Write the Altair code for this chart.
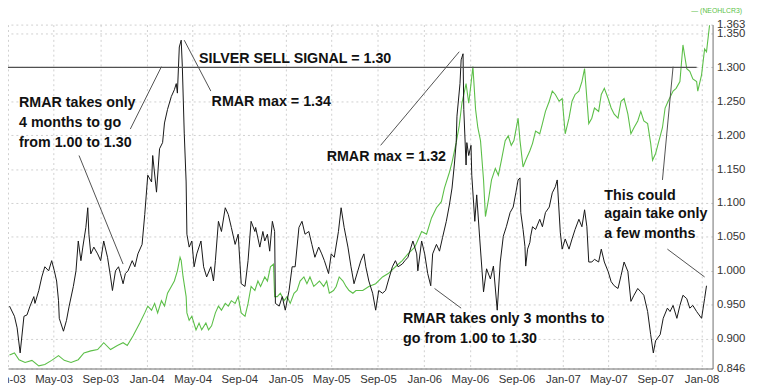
import altair as alt
import pandas as pd

# ---------------- data ----------------
# day offsets from 2003-01-01 and values
black_days = [4, 17, 24, 32, 42, 50, 58, 68, 71, 81,
              89, 97, 107, 115, 122, 128, 133, 135, 146, 154,
              161, 172, 179, 185, 192, 197, 205, 210, 213, 218,
              226, 236, 244, 252, 262, 270, 275, 283, 291, 296,
              303, 309, 316, 327, 334, 342, 353, 360, 368, 378,
              381, 391, 399, 407, 412, 420, 430, 438, 443, 446,
              451, 456, 459, 464, 469, 471, 477, 484, 490, 497,
              508, 515, 523, 534, 541, 546, 554, 562, 572, 580,
              588, 598, 606, 614, 624, 632, 640, 650, 652, 663,
              671, 676, 683, 689, 696, 702, 704, 714, 722, 730,
              740, 748, 756, 766, 774, 782, 792, 800, 808, 818,
              826, 833, 844, 851, 859, 870, 877, 885, 895, 903,
              911, 921, 929, 937, 942, 950, 960, 968, 976, 986,
              994, 1001, 1012, 1020, 1027, 1038, 1045, 1053, 1066, 1076,
              1079, 1089, 1097, 1105, 1113, 1118, 1128, 1136, 1144, 1154,
              1162, 1169, 1175, 1180, 1182, 1190, 1193, 1198, 1200, 1206,
              1208, 1213, 1219, 1221, 1229, 1234, 1242, 1252, 1260, 1270,
              1278, 1288, 1296, 1304, 1312, 1322, 1330, 1337, 1343, 1348,
              1350, 1356, 1361, 1363, 1368, 1374, 1376, 1381, 1389, 1400,
              1407, 1415, 1425, 1433, 1441, 1446, 1454, 1459, 1467, 1477,
              1485, 1493, 1503, 1511, 1518, 1524, 1529, 1537, 1544, 1555,
              1562, 1570, 1580, 1588, 1596, 1606, 1614, 1622, 1632, 1640,
              1648, 1658, 1666, 1674, 1684, 1692, 1699, 1705, 1717, 1725,
              1736, 1743, 1751, 1761, 1769, 1777, 1787, 1795, 1803, 1813,
              1826, 1834, 1839]
black_vals = [0.948, 0.933, 0.916, 0.879, 0.933, 0.935, 0.948, 0.962, 0.952, 0.971,
              0.991, 1.006, 1.000, 1.015, 1.000, 0.985, 0.956, 0.930, 0.911, 0.927,
              0.948, 0.977, 1.000, 1.044, 1.015, 1.035, 1.064, 1.093, 1.054, 1.025,
              1.035, 1.025, 1.015, 1.044, 1.020, 0.991, 0.971, 1.000, 1.006, 0.996,
              0.981, 0.996, 1.000, 1.015, 1.006, 1.025, 1.039, 1.083, 1.141, 1.131,
              1.170, 1.116, 1.180, 1.189, 1.218, 1.238, 1.257, 1.267, 1.276, 1.262,
              1.330, 1.340, 1.301, 1.203, 1.131, 1.054, 1.035, 1.044, 1.006, 1.025,
              1.044, 1.006, 0.991, 1.006, 0.985, 1.015, 1.073, 1.058, 1.093, 1.083,
              1.064, 1.039, 1.054, 0.981, 0.977, 1.015, 1.073, 1.058, 1.064, 1.035,
              1.058, 1.044, 1.054, 1.029, 1.073, 1.058, 0.952, 0.948, 0.962, 0.942,
              0.971, 1.006, 1.006, 1.064, 1.073, 1.054, 1.058, 1.039, 1.020, 1.035,
              1.025, 1.015, 0.996, 1.025, 1.020, 1.058, 1.093, 1.064, 1.035, 1.006,
              0.981, 1.000, 1.015, 1.025, 1.006, 0.985, 0.967, 0.942, 0.971, 0.967,
              0.971, 0.985, 1.006, 1.015, 1.006, 1.010, 1.015, 1.020, 1.044, 1.025,
              1.000, 1.044, 1.025, 0.996, 0.978, 1.025, 1.039, 1.029, 1.049, 1.073,
              1.097, 1.122, 1.156, 1.189, 1.228, 1.276, 1.311, 1.320, 1.238, 1.156,
              1.189, 1.170, 1.185, 1.141, 1.073, 1.112, 1.047, 0.969, 1.003, 0.988,
              1.007, 0.942, 1.013, 1.051, 1.065, 1.086, 1.094, 1.115, 1.134, 1.137,
              1.086, 1.061, 1.036, 1.007, 1.032, 1.042, 1.051, 1.065, 1.061, 1.076,
              1.065, 1.086, 1.094, 1.115, 1.124, 1.134, 1.057, 1.032, 1.047, 1.032,
              1.047, 1.061, 1.076, 1.065, 1.090, 1.065, 1.013, 1.013, 1.017, 1.013,
              1.032, 1.013, 0.999, 0.984, 0.978, 0.974, 0.993, 1.013, 0.999, 0.955,
              0.964, 0.974, 0.969, 0.964, 0.940, 0.906, 0.879, 0.897, 0.906, 0.930,
              0.945, 0.940, 0.949, 0.930, 0.949, 0.964, 0.959, 0.945, 0.949, 0.940,
              0.930, 0.959, 0.978]

green_days = [4, 17, 29, 45, 63, 81, 97, 115, 133, 148,
              166, 185, 200, 218, 236, 252, 270, 288, 303, 314,
              329, 347, 360, 368, 378, 386, 394, 404, 412, 420,
              430, 438, 446, 453, 456, 461, 469, 471, 477, 484,
              495, 503, 510, 521, 528, 536, 546, 554, 562, 572,
              580, 588, 598, 606, 614, 624, 632, 640, 650, 658,
              665, 676, 683, 691, 699, 702, 709, 717, 727, 735,
              743, 753, 761, 769, 779, 787, 795, 805, 813, 820,
              831, 839, 846, 857, 864, 872, 882, 890, 898, 908,
              916, 934, 950, 968, 986, 1001, 1020, 1038, 1053, 1071,
              1089, 1102, 1115, 1128, 1141, 1149, 1162, 1169, 1180, 1188,
              1195, 1206, 1213, 1219, 1224, 1231, 1237, 1244, 1252, 1257,
              1265, 1273, 1283, 1291, 1299, 1309, 1317, 1325, 1332, 1343,
              1348, 1356, 1363, 1374, 1381, 1389, 1400, 1407, 1415, 1425,
              1433, 1441, 1451, 1459, 1467, 1477, 1485, 1493, 1503, 1511,
              1518, 1529, 1537, 1544, 1555, 1562, 1570, 1580, 1588, 1596,
              1606, 1614, 1622, 1632, 1640, 1648, 1658, 1666, 1674, 1684,
              1692, 1697, 1705, 1712, 1723, 1730, 1738, 1751, 1759, 1769,
              1777, 1787, 1795, 1803, 1813, 1816, 1826, 1834, 1839, 1847]
green_vals = [0.876, 0.879, 0.869, 0.865, 0.868, 0.860, 0.862, 0.868, 0.875, 0.868,
              0.865, 0.869, 0.879, 0.882, 0.884, 0.894, 0.884, 0.890, 0.894, 0.890,
              0.904, 0.923, 0.938, 0.948, 0.942, 0.952, 0.938, 0.956, 0.948, 0.967,
              0.977, 0.985, 1.000, 1.020, 1.015, 0.991, 0.962, 0.938, 0.927, 0.933,
              0.913, 0.923, 0.913, 0.923, 0.913, 0.919, 0.938, 0.948, 0.942, 0.952,
              0.948, 0.956, 0.952, 0.962, 0.938, 0.933, 0.952, 0.977, 0.971, 0.985,
              0.977, 0.991, 0.985, 1.006, 1.010, 0.962, 0.962, 0.967, 0.956, 0.962,
              0.952, 0.967, 0.971, 0.985, 0.991, 0.981, 0.991, 0.977, 0.981, 0.985,
              0.977, 0.985, 0.967, 0.971, 0.977, 0.991, 0.985, 0.977, 0.971, 0.967,
              0.971, 0.971, 0.977, 0.981, 0.991, 0.996, 1.006, 1.015, 1.025, 1.035,
              1.058, 1.054, 1.078, 1.093, 1.102, 1.122, 1.145, 1.160, 1.189, 1.214,
              1.247, 1.276, 1.247, 1.276, 1.301, 1.238, 1.211, 1.192, 1.134, 1.080,
              1.105, 1.134, 1.151, 1.141, 1.163, 1.192, 1.199, 1.185, 1.192, 1.225,
              1.192, 1.153, 1.163, 1.177, 1.188, 1.206, 1.202, 1.217, 1.235, 1.250,
              1.265, 1.260, 1.250, 1.254, 1.202, 1.225, 1.250, 1.260, 1.265, 1.279,
              1.298, 1.217, 1.225, 1.240, 1.235, 1.260, 1.269, 1.254, 1.240, 1.231,
              1.225, 1.250, 1.254, 1.231, 1.202, 1.211, 1.221, 1.235, 1.221, 1.217,
              1.188, 1.163, 1.173, 1.188, 1.211, 1.240, 1.250, 1.265, 1.269, 1.279,
              1.333, 1.298, 1.294, 1.283, 1.279, 1.265, 1.289, 1.327, 1.323, 1.362]

sell_signal = 1.30
sell_signal_end_day = 1813

x_tick_months = [(2003, 1), (2003, 5), (2003, 9), (2004, 1), (2004, 5), (2004, 9),
                 (2005, 1), (2005, 5), (2005, 9), (2006, 1), (2006, 5), (2006, 9),
                 (2007, 1), (2007, 5), (2007, 9), (2008, 1)]
y_tick_values = [0.856, 0.90, 0.95, 1.00, 1.05, 1.10, 1.15, 1.20, 1.25, 1.30, 1.35, 1.363]

# annotation pointer lines (day, value) -> (day, value)
line_d1 = [322, 187, 464, 981, 1123, 1751, 1736]
line_v1 = [1.209, 1.170, 1.340, 1.185, 0.974, 1.301, 1.032]
line_d2 = [404, 303, 534, 1188, 1193, 1723, 1834]
line_v2 = [1.301, 1.010, 1.265, 1.323, 0.945, 1.134, 0.991]

note_text = ["SILVER SELL SIGNAL = 1.30", "RMAR max = 1.34",
             "RMAR takes only", "4 months to go", "from 1.00 to 1.30",
             "RMAR max = 1.32",
             "RMAR takes only 3 months to", "go from 1.00 to 1.30",
             "This could", "again take only", "a few months"]
note_day = [503, 536, 29, 29, 29, 839, 1040, 1040, 1570, 1570, 1570]
note_val = [1.312, 1.249, 1.247, 1.218, 1.189, 1.167, 0.929, 0.900, 1.110, 1.083, 1.054]

# ---------------- tables ----------------
base = pd.Timestamp("2003-01-01")


def to_dates(days):
    return [base + pd.Timedelta(days=int(d)) for d in days]


n_b = min(len(black_days), len(black_vals))
n_g = min(len(green_days), len(green_vals))
black_df = pd.DataFrame({"date": to_dates(black_days[:n_b]), "value": black_vals[:n_b]})
green_df = pd.DataFrame({"date": to_dates(green_days[:n_g]), "value": green_vals[:n_g]})
signal_df = pd.DataFrame({"d1": to_dates([0]), "d2": to_dates([sell_signal_end_day]),
                          "v": [sell_signal]})
lines_df = pd.DataFrame({"d1": to_dates(line_d1), "v1": line_v1,
                         "d2": to_dates(line_d2), "v2": line_v2})
notes_df = pd.DataFrame({"date": to_dates(note_day), "value": note_val, "label": note_text})

FONT = "Liberation Sans"

x_scale = alt.Scale(domain=[alt.DateTime(year=2003, month=1, date=1),
                            alt.DateTime(year=2008, month=1, date=30)])
y_scale = alt.Scale(domain=[0.856, 1.363], zero=False, nice=False)

x_axis = alt.Axis(
    values=[alt.DateTime(year=y, month=m, date=1) for y, m in x_tick_months],
    format="%b-%y", title=None, ticks=False, labelPadding=5,
    labelFont=FONT, labelFontSize=11.5, labelColor="#333333",
    labelFlush=False, labelOverlap=False,
    domainColor="#6e6e6e", domainWidth=1,
    grid=True, gridColor="#cfcfcf", gridDash=[2, 3], gridWidth=1,
)
y_axis = alt.Axis(
    orient="right", values=y_tick_values, title=None, ticks=False, labelPadding=4,
    labelExpr="datum.value < 0.86 ? '0.846' : format(datum.value, '.3f')",
    labelFont=FONT, labelFontSize=11.5, labelColor="#333333",
    labelFlush=False, labelOverlap=False, labelBound=False,
    domainColor="#6e6e6e", domainWidth=1,
    grid=True, gridColor="#cfcfcf", gridDash=[2, 3], gridWidth=1,
)


def X(field):
    return alt.X(field, type="temporal", scale=x_scale, axis=x_axis)


def Y(field):
    return alt.Y(field, type="quantitative", scale=y_scale, axis=y_axis)


green_line = alt.Chart(green_df).mark_line(color="#5cbf48", strokeWidth=1.1, clip=True).encode(
    x=X("date"), y=Y("value"))
black_line = alt.Chart(black_df).mark_line(color="#151515", strokeWidth=1, clip=True).encode(
    x=X("date"), y=Y("value"))
signal = alt.Chart(signal_df).mark_rule(color="#505050", strokeWidth=1.2).encode(
    x=X("d1"), x2="d2", y=Y("v"))
pointers = alt.Chart(lines_df).mark_rule(color="#505050", strokeWidth=1).encode(
    x=X("d1"), x2="d2", y=Y("v1"), y2="v2")
notes = alt.Chart(notes_df).mark_text(
    align="left", baseline="middle", font=FONT, fontSize=14.5, fontWeight="bold",
    color="#111111").encode(x=X("date"), y=Y("value"), text="label")

chart = alt.layer(green_line, black_line, signal, pointers, notes).properties(
    width=715, height=349,
    autosize=alt.AutoSizeParams(type="none"),
    padding={"left": 0, "top": 14, "right": 40, "bottom": 22},
    title=alt.TitleParams(text="— (NEOHLCR3)", anchor="end", frame="group", dx=30,
                          offset=5, fontSize=7, font=FONT, fontWeight="normal",
                          color="#5cbf48"),
).configure_view(stroke=None)

chart.save("out.html", embed_options={"renderer": "svg", "actions": False})
